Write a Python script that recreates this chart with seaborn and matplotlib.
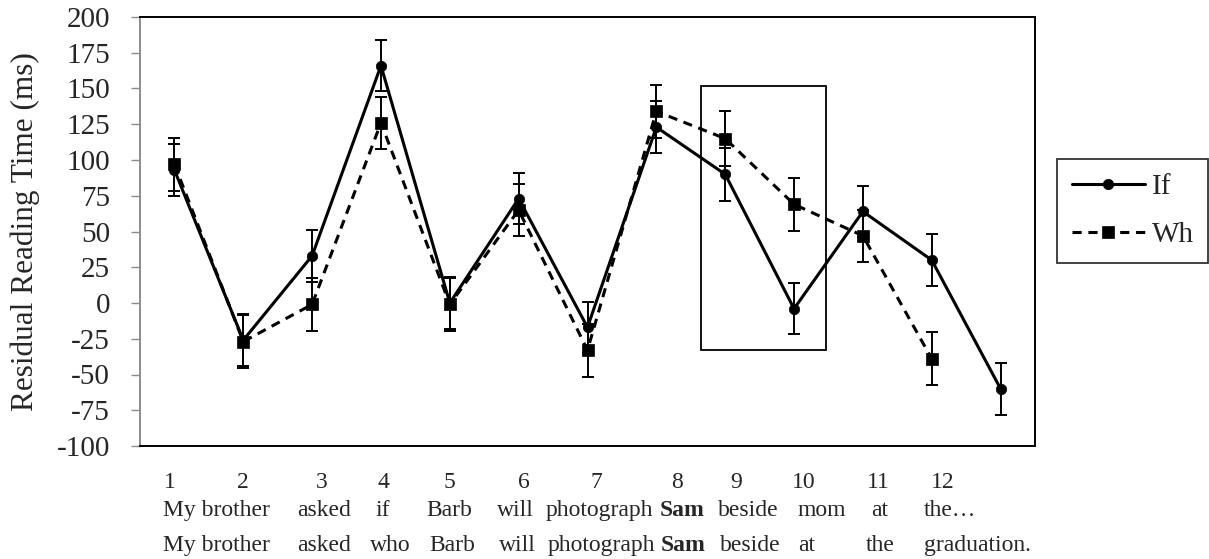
import pandas as pd
import seaborn as sns
import matplotlib
matplotlib.use('Agg')
import matplotlib.pyplot as plt
from matplotlib.patches import Rectangle

sns.set_style('white')
plt.rcParams['font.family'] = ['Liberation Serif', 'DejaVu Serif']
plt.rcParams['axes.unicode_minus'] = False

# values
if_region = [1, 2, 3, 4, 5, 6, 7, 8, 9, 10, 11, 12, 13]
if_rt = [93, -26, 33, 166, 0, 73, -17, 123, 90, -4, 64, 30, -60]
if_err = [18, 18, 18, 18, 18, 18, 18, 18, 18.5, 18, 17.5, 18, 18]

wh_region = [1, 2, 3, 4, 5, 6, 7, 8, 9, 10, 11, 12]
wh_rt = [97, -27, -1, 126, -1, 65, -33, 134, 115, 69, 47, -39]
wh_err = [18.5, 18.5, 18.5, 18, 18.5, 18, 18.5, 18.5, 19, 18.5, 18, 18.5]

yticks = list(range(-100, 201, 25))

region_nums = ['1', '2', '3', '4', '5', '6', '7', '8', '9', '10', '11', '12']
if_words = ['My brother', 'asked', 'if', 'Barb', 'will', 'photograph', 'Sam',
            'beside', 'mom', 'at', 'the…']
wh_words = ['My brother', 'asked', 'who', 'Barb', 'will', 'photograph', 'Sam',
            'beside', 'at', 'the', 'graduation.']

# layout of the sentence rows under the plot (pixels on the 1209x559 canvas)
W, H = 1209, 559
num_px = [170, 243, 322, 383, 449, 524, 596, 677, 736, 804, 878, 943]
if_px = [163, 297, 376, 426, 497, 546, 660, 718, 798, 871, 924]
wh_px = [163, 297, 370, 429, 499, 548, 661, 720, 798, 866, 924]

fig = plt.figure(figsize=(W / 100, H / 100), dpi=100)
ax = fig.add_axes([140 / W, 1 - 446 / H, (1035 - 140) / W, (446 - 17) / H])

df_if = pd.DataFrame({'region': if_region, 'rt': if_rt})
df_wh = pd.DataFrame({'region': wh_region, 'rt': wh_rt})

ax.errorbar(if_region, if_rt, yerr=if_err, fmt='none', ecolor='black',
            elinewidth=1.4, capsize=4.5, capthick=1.4, zorder=2)
ax.errorbar(wh_region, wh_rt, yerr=wh_err, fmt='none', ecolor='black',
            elinewidth=1.4, capsize=4.5, capthick=1.4, zorder=2)

sns.lineplot(data=df_if, x='region', y='rt', ax=ax, color='black', lw=2.2,
             marker='o', ms=7.5, mec='black', mfc='black', mew=0.5,
             label='If', zorder=3)
sns.lineplot(data=df_wh, x='region', y='rt', ax=ax, color='black', lw=2.2,
             linestyle=(0, (3.0, 2.2)), marker='s', ms=8.5, mec='black',
             mfc='black', mew=0.5, label='Wh', zorder=3)

# box around regions 9-10
ax.add_patch(Rectangle((9 - 0.355, -33), 1.817, 185, fill=False,
                       edgecolor='black', lw=1.3, zorder=4))

ax.set_xlim(0.5, 13.5)
ax.set_ylim(-100, 200)
ax.set_yticks(yticks)
ax.set_yticklabels([str(t) for t in yticks])
ax.tick_params(axis='y', direction='out', length=6.5, width=1.0,
               color='#8c8c8c', pad=15, labelsize=21, left=True)
ax.tick_params(axis='x', bottom=False, labelbottom=False)
ax.set_xlabel('')
ax.set_ylabel('Residual Reading Time (ms)', fontsize=22.5)
ax.yaxis.set_label_coords(-0.112, 0.5)

for side in ['top', 'right', 'bottom']:
    ax.spines[side].set_color('black')
    ax.spines[side].set_linewidth(1.4)
ax.spines['left'].set_color('#8c8c8c')
ax.spines['left'].set_linewidth(1.4)

handles, labels = ax.get_legend_handles_labels()
leg = ax.legend(handles, labels, loc='center left',
                bbox_to_anchor=(1057 / W, 1 - 211 / H),
                bbox_transform=fig.transFigure, frameon=True, fancybox=False,
                edgecolor='black', fontsize=21, handlelength=2.5,
                handletextpad=0.25, borderpad=0.5, labelspacing=0.75,
                borderaxespad=0)
leg.get_frame().set_linewidth(1.3)

for txt, px in zip(region_nums, num_px):
    fig.text(px / W, 1 - 488 / H, txt, ha='center', va='baseline', fontsize=17)
for txt, px in zip(if_words, if_px):
    fig.text(px / W, 1 - 516 / H, txt, ha='left', va='baseline', fontsize=17,
             fontweight='bold' if txt == 'Sam' else 'normal')
for txt, px in zip(wh_words, wh_px):
    fig.text(px / W, 1 - 551 / H, txt, ha='left', va='baseline', fontsize=17,
             fontweight='bold' if txt == 'Sam' else 'normal')

fig.savefig('out.png', dpi=100)
